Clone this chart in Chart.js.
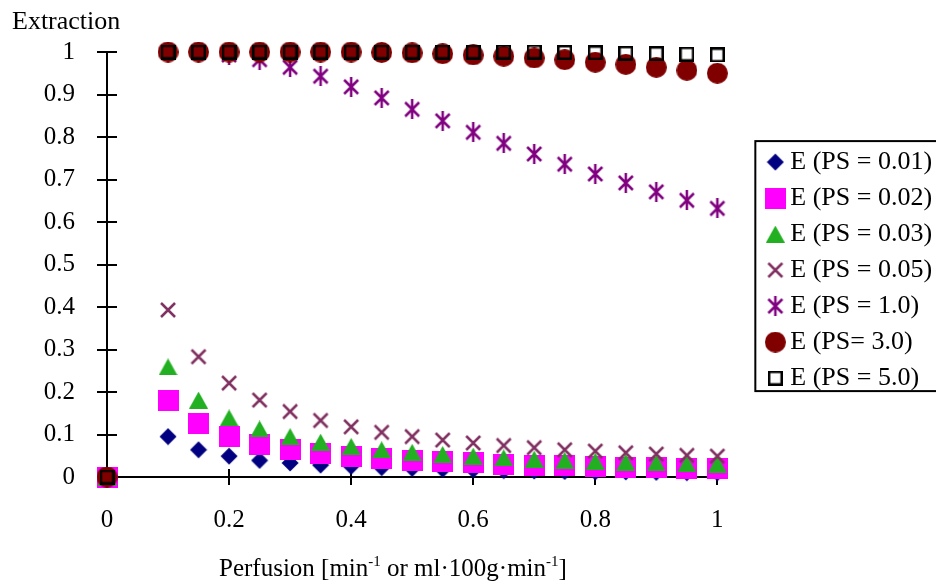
<!DOCTYPE html>
<html>
<head>
<meta charset="utf-8">
<title>Extraction vs perfusion</title>
<script src="https://cdn.jsdelivr.net/npm/chart.js@4.4.1/dist/chart.umd.min.js"></script>
<style>
  html, body { margin: 0; padding: 0; background: #fff; }
  #wrap { width: 936px; height: 581px; }
</style>
</head>
<body>
<div id="wrap"><canvas id="extraction" width="936" height="581"></canvas></div>
<script>
// perfusion values (x) shared by every series
const perfusion = [0, 0.1, 0.15, 0.2, 0.25, 0.3, 0.35, 0.4, 0.45, 0.5, 0.55, 0.6, 0.65, 0.7, 0.75, 0.8, 0.85, 0.9, 0.95, 1];

// extraction read per PS value
const ePS001 = [0, 0.095, 0.064, 0.049, 0.039, 0.033, 0.028, 0.025, 0.022, 0.020, 0.018, 0.017, 0.015, 0.014, 0.013, 0.012, 0.012, 0.011, 0.010, 0.010];
const ePS002 = [0, 0.181, 0.125, 0.095, 0.077, 0.064, 0.055, 0.049, 0.043, 0.039, 0.036, 0.033, 0.030, 0.028, 0.026, 0.025, 0.023, 0.022, 0.021, 0.020];
const ePS003 = [0, 0.259, 0.181, 0.139, 0.113, 0.095, 0.082, 0.072, 0.064, 0.058, 0.053, 0.049, 0.045, 0.042, 0.039, 0.037, 0.035, 0.033, 0.031, 0.030];
const ePS005 = [0, 0.393, 0.283, 0.221, 0.181, 0.154, 0.133, 0.118, 0.105, 0.095, 0.087, 0.080, 0.074, 0.069, 0.064, 0.061, 0.057, 0.054, 0.051, 0.049];
const ePS1 = [0, 1.000, 0.999, 0.993, 0.982, 0.964, 0.943, 0.918, 0.892, 0.865, 0.838, 0.811, 0.785, 0.760, 0.736, 0.713, 0.692, 0.671, 0.651, 0.632];
const ePS3 = [0, 1, 1, 1, 1, 1, 1, 1, 0.999, 0.998, 0.996, 0.993, 0.990, 0.986, 0.982, 0.976, 0.971, 0.964, 0.957, 0.950];
const ePS5 = [0, 1, 1, 1, 1, 1, 1, 1, 1, 1, 1, 1, 1, 1, 0.999, 0.998, 0.997, 0.996, 0.995, 0.993];

const seriesNames = ["E (PS = 0.01)", "E (PS = 0.02)", "E (PS = 0.03)", "E (PS = 0.05)", "E (PS = 1.0)", "E (PS= 3.0)", "E (PS = 5.0)"];

const xTickValues = [0, 0.2, 0.4, 0.6, 0.8, 1];
const yTickValues = [0, 0.1, 0.2, 0.3, 0.4, 0.5, 0.6, 0.7, 0.8, 0.9, 1];

const FONT = "'Liberation Serif', 'Times New Roman', serif";

// small canvases used as point markers (chart + legend)
function marker(w, h, paint) {
  const c = document.createElement("canvas");
  c.width = w;
  c.height = h;
  paint(c.getContext("2d"), w, h);
  return c;
}

const diamond = marker(18, 18, (g) => {
  g.fillStyle = "#000080";
  g.beginPath();
  g.moveTo(9, 0.5); g.lineTo(17.5, 9); g.lineTo(9, 17.5); g.lineTo(0.5, 9);
  g.closePath();
  g.fill();
});
const pinkSquare = marker(21, 21, (g) => {
  g.fillStyle = "#ff00ff";
  g.fillRect(0, 0, 21, 21);
});
const triangle = marker(19, 17, (g) => {
  g.fillStyle = "#22b022";
  g.beginPath();
  g.moveTo(9.5, 0); g.lineTo(19, 17); g.lineTo(0, 17);
  g.closePath();
  g.fill();
});
const cross = marker(18, 18, (g) => {
  g.strokeStyle = "#803060";
  g.lineWidth = 2.5;
  g.beginPath();
  g.moveTo(2, 2); g.lineTo(16, 16);
  g.moveTo(16, 2); g.lineTo(2, 16);
  g.stroke();
});
const asterisk = marker(18, 20, (g) => {
  g.strokeStyle = "#800080";
  g.lineWidth = 2.5;
  g.beginPath();
  g.moveTo(2, 3); g.lineTo(16, 17);
  g.moveTo(16, 3); g.lineTo(2, 17);
  g.moveTo(9, 0); g.lineTo(9, 20);
  g.stroke();
});
const disc = marker(21, 21, (g) => {
  g.fillStyle = "#800000";
  g.beginPath();
  g.arc(10.5, 10.5, 10.5, 0, Math.PI * 2);
  g.fill();
});
const openSquare = marker(15, 15, (g) => {
  g.strokeStyle = "#000";
  g.lineWidth = 2.5;
  g.strokeRect(1.25, 1.25, 12.5, 12.5);
});

const seriesValues = [ePS001, ePS002, ePS003, ePS005, ePS1, ePS3, ePS5];
const seriesMarkers = [diamond, pinkSquare, triangle, cross, asterisk, disc, openSquare];

// later series sit on top of earlier ones
const datasets = seriesValues.map((vals, i) => ({
  label: seriesNames[i],
  data: perfusion.map((x, j) => ({ x: x, y: vals[j] })),
  pointStyle: seriesMarkers[i],
  pointRadius: 10,
  showLine: false,
  clip: false,
  order: seriesValues.length - i
}));

// cross ticks, axis titles and the legend frame
const axisDecor = {
  id: "axisDecor",
  afterLayout(chart) {
    // let the legend run to the canvas edge so its labels are not clipped
    const lg = chart.legend;
    if (lg) {
      lg.right = chart.width;
      lg.width = lg.right - lg.left;
    }
  },
  beforeDatasetsDraw(chart) {
    const { ctx, chartArea, scales } = chart;
    ctx.save();
    ctx.strokeStyle = "#000";
    ctx.lineWidth = 2;
    ctx.beginPath();
    yTickValues.forEach((v) => {
      const py = Math.round(scales.y.getPixelForValue(v));
      ctx.moveTo(chartArea.left - 10, py);
      ctx.lineTo(chartArea.left + 10, py);
    });
    xTickValues.forEach((v) => {
      const px = Math.round(scales.x.getPixelForValue(v));
      ctx.moveTo(px, chartArea.bottom - 8);
      ctx.lineTo(px, chartArea.bottom + 8);
    });
    ctx.stroke();
    ctx.restore();
  },
  afterDraw(chart) {
    const { ctx } = chart;
    ctx.save();
    ctx.fillStyle = "#000";
    ctx.textBaseline = "alphabetic";
    ctx.textAlign = "left";

    ctx.font = "26px " + FONT;
    ctx.fillText("Extraction", 12, 29);

    // x title with superscripts
    const parts = [
      ["Perfusion [min", false], ["-1", true], [" or ml\u00b7100g\u00b7min", false], ["-1", true], ["]", false]
    ];
    let tx = 219;
    parts.forEach(([t, sup]) => {
      ctx.font = (sup ? "15px " : "25px ") + FONT;
      ctx.fillText(t, tx, sup ? 566 : 576);
      tx += ctx.measureText(t).width;
    });

    // legend frame
    const boxes = chart.legend.legendHitBoxes;
    if (boxes && boxes.length) {
      const left = Math.min(...boxes.map((b) => b.left)) - 18;
      const top = Math.min(...boxes.map((b) => b.top)) - 8;
      const bottom = Math.max(...boxes.map((b) => b.top + b.height));
      ctx.strokeStyle = "#000";
      ctx.lineWidth = 2;
      ctx.strokeRect(left, top, chart.width + 10 - left, bottom - top);
    }
    ctx.restore();
  }
};

const numLabel = (v) => String(Number(v.toFixed(2)));

new Chart(document.getElementById("extraction"), {
  type: "scatter",
  data: { datasets: datasets },
  options: {
    responsive: false,
    animation: false,
    layout: { padding: { left: 0, top: 52, right: 20, bottom: 0 } },
    font: { family: FONT },
    plugins: {
      legend: {
        position: "right",
        fullSize: false,
        reverse: true,
        title: { display: true, text: "", padding: { top: 10, bottom: 0 }, font: { size: 1 } },
        labels: {
          usePointStyle: true,
          boxWidth: 4,
          boxHeight: 4,
          padding: 10,
          color: "#000",
          font: { family: FONT, size: 26 }
        }
      },
      tooltip: { enabled: false }
    },
    scales: {
      x: {
        type: "linear",
        min: 0,
        max: 1,
        grid: { display: false },
        border: { display: true, color: "#000", width: 2 },
        afterBuildTicks: (s) => { s.ticks = xTickValues.map((v) => ({ value: v })); },
        afterFit: (s) => { s.height = 104; },
        ticks: {
          color: "#000",
          padding: 20,
          font: { family: FONT, size: 25 },
          callback: numLabel
        }
      },
      y: {
        type: "linear",
        min: 0,
        max: 1,
        grid: { display: false },
        border: { display: true, color: "#000", width: 2 },
        afterBuildTicks: (s) => { s.ticks = yTickValues.map((v) => ({ value: v })); },
        afterFit: (s) => { s.width = 107; },
        ticks: {
          color: "#000",
          padding: 24,
          font: { family: FONT, size: 25 },
          callback: numLabel
        }
      },
      // empty strip between plot and legend
      gap: {
        type: "linear",
        position: "right",
        display: true,
        grid: { display: false },
        border: { display: false },
        ticks: { display: false },
        afterFit: (s) => { s.width = 46; }
      }
    }
  },
  plugins: [axisDecor]
});
</script>
</body>
</html>
